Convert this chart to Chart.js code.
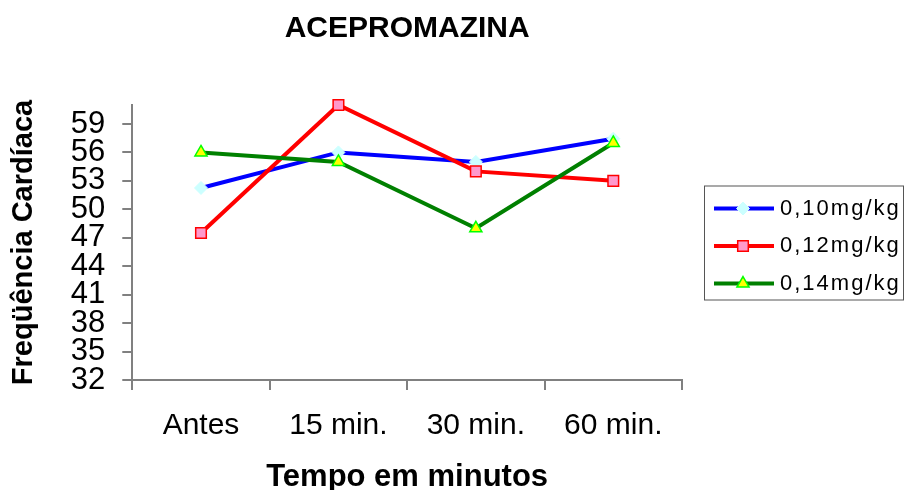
<!DOCTYPE html>
<html lang="pt">
<head>
<meta charset="UTF-8">
<title>Acepromazina - Freqüência Cardíaca</title>
<script src="https://cdn.jsdelivr.net/npm/chart.js"></script>
<style>
  html, body { margin: 0; padding: 0; background: #fff; }
  #chart { display: block; }
</style>
</head>
<body>
<canvas id="chart" width="904" height="490"></canvas>
<script>
const categories = ['Antes', '15 min.', '30 min.', '60 min.'];
const seriesNames = ['0,10mg/kg', '0,12mg/kg', '0,14mg/kg'];
const dose010 = [52.25, 56, 55, 57.45];
const dose012 = [47.5, 61, 54, 53];
const dose014 = [56, 55, 48, 57];
const yTicks = [32, 35, 38, 41, 44, 47, 50, 53, 56, 59];

const FONT = '"Liberation Sans", Arial, sans-serif';
const AXIS_GRAY = '#808080';

// legend drawn by hand: Excel style box with line + marker
const boxLegend = {
  id: 'boxLegend',
  afterDraw(chart) {
    const ctx = chart.ctx;
    const area = chart.chartArea;
    const w = 199, h = 114;
    const left = area.right + 22;
    const top = (area.top + area.bottom) / 2 - h / 2;

    ctx.save();
    ctx.strokeStyle = '#555';
    ctx.lineWidth = 1;
    ctx.strokeRect(left + 0.5, top + 0.5, w, h);

    chart.data.datasets.forEach((ds, i) => {
      const y = top + 23 + i * 37.5;
      ctx.strokeStyle = ds.borderColor;
      ctx.lineWidth = ds.borderWidth;
      ctx.beginPath();
      ctx.moveTo(left + 10, y);
      ctx.lineTo(left + 70, y);
      ctx.stroke();
      drawMarker(ctx, ds, left + 39, y);

      ctx.fillStyle = '#000';
      ctx.font = '22px ' + FONT;
      ctx.letterSpacing = '2px';
      ctx.textBaseline = 'middle';
      ctx.textAlign = 'left';
      ctx.fillText(ds.label, left + 76, y);
      ctx.letterSpacing = '0px';
    });
    ctx.restore();
  }
};

function drawMarker(ctx, ds, x, y) {
  const r = ds.pointRadius;
  ctx.fillStyle = ds.pointBackgroundColor;
  ctx.strokeStyle = ds.pointBorderColor;
  ctx.lineWidth = ds.pointBorderWidth;
  ctx.beginPath();
  if (ds.pointStyle === 'rectRot') {
    ctx.moveTo(x - r, y); ctx.lineTo(x, y - r); ctx.lineTo(x + r, y); ctx.lineTo(x, y + r);
  } else if (ds.pointStyle === 'rect') {
    const s = r * Math.SQRT1_2;
    ctx.rect(x - s, y - s, 2 * s, 2 * s);
  } else {
    ctx.moveTo(x, y - r);
    ctx.lineTo(x + r * Math.sin(Math.PI / 3), y + r / 2);
    ctx.lineTo(x - r * Math.sin(Math.PI / 3), y + r / 2);
  }
  ctx.closePath();
  ctx.fill();
  ctx.stroke();
}

new Chart(document.getElementById('chart'), {
  type: 'line',
  data: {
    labels: categories,
    datasets: [
      {
        label: seriesNames[0],
        data: dose010,
        borderColor: '#0000ff',
        borderWidth: 4,
        pointStyle: 'rectRot',
        pointRadius: 6.5,
        pointBackgroundColor: '#ccffff',
        pointBorderColor: '#ccffff',
        pointBorderWidth: 1,
        order: 3,
        clip: false
      },
      {
        label: seriesNames[1],
        data: dose012,
        borderColor: '#ff0000',
        borderWidth: 4,
        pointStyle: 'rect',
        pointRadius: 7.5,
        pointBackgroundColor: '#ff99cc',
        pointBorderColor: '#ff0000',
        pointBorderWidth: 1.5,
        order: 2,
        clip: false
      },
      {
        label: seriesNames[2],
        data: dose014,
        borderColor: '#008000',
        borderWidth: 4,
        pointStyle: 'triangle',
        pointRadius: 7,
        pointBackgroundColor: '#ffff00',
        pointBorderColor: '#00ff00',
        pointBorderWidth: 1.5,
        order: 1,
        clip: false
      }
    ]
  },
  options: {
    responsive: false,
    devicePixelRatio: 1,
    animation: false,
    layout: {
      padding: { left: 4, right: 222, top: 0, bottom: 0 }
    },
    elements: { line: { tension: 0 } },
    plugins: {
      legend: { display: false },
      tooltip: { enabled: false },
      title: {
        display: true,
        text: 'ACEPROMAZINA',
        fullSize: false,
        color: '#000',
        font: { family: FONT, size: 30, weight: 'bold' },
        padding: { top: 11, bottom: 58 }
      }
    },
    scales: {
      x: {
        type: 'category',
        offset: true,
        grid: {
          offset: true,
          drawOnChartArea: false,
          drawTicks: true,
          tickLength: 10,
          color: AXIS_GRAY,
          lineWidth: 2
        },
        border: { display: true, color: AXIS_GRAY, width: 2 },
        ticks: {
          color: '#000',
          font: { family: FONT, size: 30 },
          padding: 18,
          maxRotation: 0,
          autoSkip: false
        },
        title: {
          display: true,
          text: 'Tempo em minutos',
          color: '#000',
          font: { family: FONT, size: 31, weight: 'bold', lineHeight: 1 },
          padding: { top: 0, bottom: -3 }
        }
      },
      y: {
        min: 32,
        max: 61,
        afterBuildTicks: (scale) => {
          scale.ticks = yTicks.map(v => ({ value: v }));
        },
        grid: {
          drawOnChartArea: false,
          drawTicks: true,
          tickLength: 10,
          color: AXIS_GRAY,
          lineWidth: 2
        },
        border: { display: true, color: AXIS_GRAY, width: 2 },
        ticks: {
          color: '#000',
          font: { family: FONT, size: 31 },
          padding: 17,
          autoSkip: false
        },
        title: {
          display: true,
          text: 'Freqüência Cardíaca',
          color: '#000',
          font: { family: FONT, size: 29, weight: 'bold' },
          padding: { top: 3, bottom: 12 }
        }
      }
    }
  },
  plugins: [boxLegend]
});
</script>
</body>
</html>
